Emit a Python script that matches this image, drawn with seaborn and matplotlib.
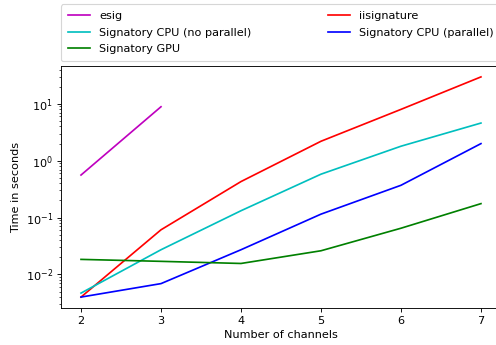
import matplotlib
matplotlib.use("Agg")
import matplotlib.pyplot as plt
import seaborn as sns
import pandas as pd

channels = [2, 3, 4, 5, 6, 7]
esig_channels = [2, 3]
esig = [0.56, 8.9]
iisignature = [0.0040, 0.061, 0.43, 2.2, 8.0, 29.8]
cpu_no_parallel = [0.0047, 0.0272, 0.132, 0.58, 1.8, 4.6]
cpu_parallel = [0.0040, 0.0069, 0.0272, 0.115, 0.37, 2.0]
gpu = [0.0184, 0.0170, 0.0156, 0.0261, 0.065, 0.176]

names = ["esig", "iisignature", "Signatory CPU (no parallel)",
         "Signatory CPU (parallel)", "Signatory GPU"]
colors = {"esig": "m", "iisignature": "r", "Signatory CPU (no parallel)": "c",
          "Signatory CPU (parallel)": "b", "Signatory GPU": "g"}

rows = []
for x, y in zip(esig_channels, esig):
    rows.append(("esig", x, y))
for name, vals in [("iisignature", iisignature),
                   ("Signatory CPU (no parallel)", cpu_no_parallel),
                   ("Signatory CPU (parallel)", cpu_parallel),
                   ("Signatory GPU", gpu)]:
    for x, y in zip(channels, vals):
        rows.append((name, x, y))
df = pd.DataFrame(rows, columns=["method", "channels", "time"])

DPI = 81
fig = plt.figure(figsize=(496 / DPI, 345 / DPI), dpi=DPI)
ax = fig.add_axes([0.123, 0.107, 0.887, 0.702])
sns.lineplot(data=df, x="channels", y="time", hue="method", hue_order=names,
             palette=colors, ax=ax, linewidth=1.5, legend=False)
ax.set_yscale("log")
ax.set_xlim(1.75, 7.25)
ax.set_xlabel("Number of channels")
ax.set_ylabel("Time in seconds")

handles = {}
for line, name in zip(ax.get_lines(), names):
    handles[name] = line
order = ["esig", "Signatory CPU (no parallel)", "Signatory GPU",
         "iisignature", "Signatory CPU (parallel)"]
ax.legend([handles[n] for n in order], order, bbox_to_anchor=(0, 1.02, 1, 0.102),
          loc="lower left", mode="expand", ncol=2, borderaxespad=0.0,
          borderpad=0.62, labelspacing=0.57)

fig.savefig("out.png", dpi=DPI)
